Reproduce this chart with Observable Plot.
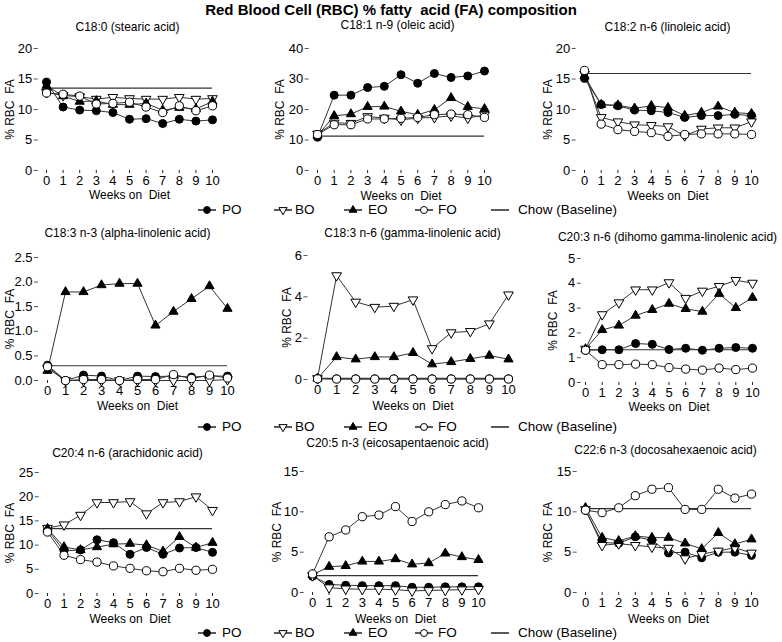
<!DOCTYPE html>
<html><head><meta charset="utf-8">
<script src="https://cdn.jsdelivr.net/npm/d3@7"></script>
<script src="https://cdn.jsdelivr.net/npm/@observablehq/plot@0.6"></script>
<style>
body{margin:0;background:#fff;}
#chart{position:relative;width:782px;height:642px;font-family:"Liberation Sans",Arial,sans-serif;color:#000;overflow:hidden;background:#fff}
.abs{position:absolute;white-space:pre;line-height:1}
svg text{white-space:pre}
</style></head><body><div id="chart"></div>
<script>
// ---------------- DATA ----------------
const weeks = [0,1,2,3,4,5,6,7,8,9,10];
const seriesNames = ["PO","BO","EO","FO"];
const legendLabels = ["PO","BO","EO","FO","Chow (Baseline)"];
const mainTitle = "Red Blood Cell (RBC) % fatty  acid (FA) composition";
const xLabel = "Weeks on  Diet";
const yLabel = "% RBC  FA";
const panelTitles = [
  "C18:0 (stearic acid)",
  "C18:1 n-9 (oleic acid)",
  "C18:2 n-6 (linoleic acid)",
  "C18:3 n-3 (alpha-linolenic acid)",
  "C18:3 n-6 (gamma-linolenic acid)",
  "C20:3 n-6 (dihomo gamma-linolenic acid)",
  "C20:4 n-6 (arachidonic acid)",
  "C20:5 n-3 (eicosapentaenoic acid)",
  "C22:6 n-3 (docosahexaenoic acid)"
];
const chowBaseline = [13.5, 11.3, 15.9, 0.3, 0.06, 1.32, 13.4, 2.1, 10.4];
const yMaxes = [20, 40, 20, 2.5, 6, 5, 25, 15, 15];
const yTickSteps = [5, 10, 5, 0.5, 2, 1, 5, 5, 5];

// rows: PO, BO, EO, FO  (weeks 0..10)
const stearic = [
  [14.5,10.4,9.9,9.8,9.5,8.4,8.5,7.7,8.4,8.1,8.3],
  [12.8,12.3,12.1,11.7,12.0,11.8,11.7,11.7,12.0,11.7,11.8],
  [13.9,12.2,11.3,11.4,10.8,10.8,11.0,9.9,10.3,10.1,11.3],
  [12.7,12.5,12.2,10.9,11.0,11.2,10.4,9.5,10.6,9.8,10.6]
];
const oleic = [
  [10.9,24.7,24.7,27.2,27.6,31.4,28.6,31.8,30.5,31.0,32.6],
  [12.0,15.6,15.5,17.7,17.2,16.6,17.2,17.4,17.9,17.2,18.2],
  [11.5,17.9,18.5,20.9,21.0,19.4,18.3,19.9,23.8,20.9,20.2],
  [11.8,15.0,15.0,16.9,16.9,17.1,17.4,18.3,18.5,18.3,17.4]
];
const linoleic = [
  [15.1,10.8,10.6,9.9,9.8,9.5,8.7,9.0,9.0,9.2,9.0],
  [15.8,8.7,8.0,7.5,7.4,7.2,5.7,6.8,7.0,7.0,8.0],
  [15.5,10.8,10.7,10.2,10.6,10.3,9.0,9.5,10.5,9.5,9.3],
  [16.4,7.6,6.7,6.4,6.2,5.6,5.9,6.0,6.0,6.0,5.9]
];
const alphaLinolenic = [
  [0.31,0.0,0.11,0.09,0.0,0.09,0.08,0.09,0.07,0.09,0.09],
  [0.25,0.0,0.0,0.0,0.0,0.0,0.0,0.0,0.0,0.0,0.02],
  [0.2,1.8,1.8,1.94,1.97,1.97,1.12,1.4,1.66,1.92,1.46],
  [0.28,0.0,0.02,0.02,0.0,0.02,0.02,0.12,0.04,0.11,0.05]
];
const gammaLinolenic = [
  [0.05,0.03,0.03,0.03,0.03,0.03,0.03,0.03,0.03,0.03,0.03],
  [0.05,5.03,3.75,3.5,3.55,3.86,1.5,2.27,2.33,2.7,4.1],
  [0.05,1.09,0.98,1.09,1.09,1.29,0.74,0.85,1.0,1.16,0.98],
  [0.03,0.02,0.02,0.02,0.02,0.02,0.02,0.02,0.02,0.02,0.02]
];
const dihomoGammaLinolenic = [
  [1.3,1.32,1.32,1.57,1.54,1.33,1.38,1.3,1.38,1.41,1.38],
  [1.35,2.74,3.22,3.74,3.74,4.03,3.4,3.69,3.88,4.12,4.01],
  [1.35,2.12,2.3,2.7,2.93,3.18,2.97,2.86,3.58,3.01,3.42],
  [1.3,0.72,0.72,0.74,0.72,0.6,0.54,0.5,0.58,0.52,0.58]
];
const arachidonic = [
  [13.2,8.8,9.0,11.1,10.5,8.1,9.5,8.1,9.4,9.5,8.5],
  [13.5,14.2,16.2,18.8,18.8,19.0,16.5,18.8,19.0,20.0,17.2],
  [13.4,9.6,9.0,9.6,10.2,10.3,10.0,8.7,11.7,9.5,10.5],
  [12.7,7.9,7.0,6.5,5.7,5.2,4.7,4.5,5.2,4.8,5.0]
];
const eicosapentaenoic = [
  [2.0,1.0,0.9,0.85,0.85,0.85,0.65,0.65,0.7,0.7,0.7],
  [2.1,0.6,0.45,0.4,0.4,0.35,0.2,0.25,0.3,0.35,0.4],
  [2.2,3.2,3.3,3.85,3.85,4.15,3.5,3.65,4.85,4.4,4.05],
  [2.3,6.9,7.75,9.4,9.6,10.65,8.8,10.0,10.9,11.35,10.5]
];
const docosahexaenoic = [
  [10.2,6.2,6.1,6.9,6.5,4.9,5.0,4.3,5.0,5.0,4.6],
  [10.3,5.85,6.05,5.85,5.65,5.5,4.2,4.75,5.15,5.55,4.9],
  [10.5,6.8,6.4,7.0,6.8,6.8,6.1,5.4,7.4,6.0,6.6],
  [10.2,9.9,10.5,12.0,12.8,13.0,10.3,10.3,12.8,11.7,12.2]
];
const panelData = [stearic, oleic, linoleic, alphaLinolenic, gammaLinolenic,
  dihomoGammaLinolenic, arachidonic, eicosapentaenoic, docosahexaenoic];

// ---------------- LAYOUT (page pixels) ----------------
const layout = [
  {x0:46,  x10:212, yTop:48,  y0:170, ylabX:10,  tx:127, ty:27,  xlabY:195, xlo:-0.5, xhi:10.5},
  {x0:317, x10:484, yTop:48,  y0:170, ylabX:280, tx:397, ty:25,  xlabY:196, xlo:-0.5, xhi:10.5},
  {x0:584, x10:751, yTop:48,  y0:170, ylabX:548, tx:667, ty:27,  xlabY:196, xlo:-0.5, xhi:10.5},
  {x0:47,  x10:227, yTop:257, y0:380, ylabX:10,  tx:127, ty:233, xlabY:406, xlo:-0.5, xhi:10.5},
  {x0:317, x10:508, yTop:255, y0:379, ylabX:287, tx:412, ty:233, xlabY:406, xlo:-0.5, xhi:10.5},
  {x0:585, x10:752, yTop:258, y0:382, ylabX:553, tx:667, ty:237, xlabY:407, xlo:-0.25, xhi:10.3},
  {x0:47,  x10:212, yTop:472, y0:593, ylabX:10,  tx:127, ty:453, xlabY:619, xlo:-0.5, xhi:10.5},
  {x0:312, x10:478, yTop:471, y0:592, ylabX:277, tx:397, ty:443, xlabY:619, xlo:-0.5, xhi:10.5},
  {x0:585, x10:751, yTop:471, y0:592, ylabX:548, tx:665, ty:450, xlabY:619, xlo:-0.5, xhi:10.5}
];

const symbolTriangleDown = {
  draw(context, size) {
    const s3 = Math.sqrt(3);
    const y = -Math.sqrt(size / (s3 * 3));
    context.moveTo(0, -y * 2);
    context.lineTo(-s3 * y, y);
    context.lineTo(s3 * y, y);
    context.closePath();
  }
};
const seriesStyle = {
  PO: {symbol: "circle", fill: "#000", r: 4},
  BO: {symbol: symbolTriangleDown, fill: "#fff", r: 3.6},
  EO: {symbol: "triangle", fill: "#000", r: 3.4},
  FO: {symbol: "circle", fill: "#fff", r: 4.1}
};

const chart = document.getElementById("chart");

function addText(txt, left, top, css) {
  const d = document.createElement("div");
  d.className = "abs";
  d.textContent = txt;
  d.style.left = left + "px";
  d.style.top = top + "px";
  Object.assign(d.style, css || {});
  chart.appendChild(d);
  return d;
}

// main title
addText(mainTitle, 0, 2, {width: "782px", textAlign: "center", fontWeight: "bold", fontSize: "15px"});

panelData.forEach((values, i) => {
  const g = layout[i];
  const unit = (g.x10 - g.x0) / 10;
  const rs = g.x0 + g.xlo * unit, re = g.x0 + g.xhi * unit;
  const L = g.ylabX - 9, T = g.ty - 10, R = re + 8, B = g.xlabY + 10;
  const rows = [];
  values.forEach((arr, s) => arr.forEach((v, k) => rows.push({series: seriesNames[s], week: weeks[k], value: v})));
  const ymax = yMaxes[i], step = yTickSteps[i];
  const yticks = d3.range(0, ymax + step / 2, step);
  const frameCenter = (rs + re) / 2;
  const frameMiddleY = (g.yTop + g.y0) / 2;
  const marks = [
    Plot.axisY({ticks: yticks, tickSize: 4, tickPadding: 2, line: true, label: null, stroke: "#555",
      tickFormat: step < 1 ? d3.format(".1f") : d3.format("d")}),
    Plot.axisX({ticks: weeks, tickSize: 3, tickPadding: 2, line: true, label: null, stroke: "#222"}),
    Plot.ruleY([chowBaseline[i]], {x1: 0, x2: 10, stroke: "#333", strokeWidth: 1.2}),
    Plot.line(rows, {x: "week", y: "value", z: "series", stroke: "#333", strokeWidth: 1})
  ];
  seriesNames.forEach(s => {
    const st = seriesStyle[s];
    marks.push(Plot.dot(rows.filter(d => d.series === s), {x: "week", y: "value", symbol: st.symbol, r: st.r,
      fill: st.fill, stroke: "#000", strokeWidth: 1}));
  });
  marks.push(Plot.text([panelTitles[i]], {text: d => d, frameAnchor: "top", lineAnchor: "middle", textAnchor: "middle",
    dy: g.ty - g.yTop, dx: g.tx - frameCenter, fontSize: 12}));
  marks.push(Plot.text([xLabel], {text: d => d, frameAnchor: "bottom", lineAnchor: "middle", textAnchor: "middle",
    dy: g.xlabY - g.y0, dx: (g.x0 + 5 * unit) - frameCenter, fontSize: 12}));
  marks.push(Plot.text([yLabel], {text: d => d, frameAnchor: "left", lineAnchor: "middle", textAnchor: "middle",
    rotate: -90, dx: g.ylabX - rs, dy: 0, fontSize: 12}));
  const svg = Plot.plot({
    width: R - L, height: B - T,
    marginLeft: rs - L, marginRight: R - re, marginTop: g.yTop - T, marginBottom: B - g.y0,
    x: {domain: [g.xlo, g.xhi]},
    y: {domain: [0, ymax]},
    style: {fontFamily: "'Liberation Sans', Arial, sans-serif", fontSize: "13px", background: "transparent", overflow: "visible", color: "#000"},
    marks
  });
  svg.style.position = "absolute";
  svg.style.left = L + "px";
  svg.style.top = T + "px";
  chart.appendChild(svg);
});

// legends
const legendRowsY = [210, 427, 633];
const glyphX = [207, 283, 353, 424, 500];
const labelX = [222, 295, 368, 438, 518];
const NS = "http://www.w3.org/2000/svg";
legendRowsY.forEach(y => {
  legendLabels.forEach((lab, j) => {
    const svg = document.createElementNS(NS, "svg");
    svg.setAttribute("width", 24); svg.setAttribute("height", 14);
    svg.style.position = "absolute";
    svg.style.left = (glyphX[j] - 12) + "px";
    svg.style.top = (y - 7) + "px";
    const line = document.createElementNS(NS, "line");
    line.setAttribute("x1", 3); line.setAttribute("x2", 21); line.setAttribute("y1", 7); line.setAttribute("y2", 7);
    line.setAttribute("stroke", "#000"); line.setAttribute("stroke-width", 1.3);
    svg.appendChild(line);
    if (j < 4) {
      const st = seriesStyle[seriesNames[j]];
      const p = document.createElementNS(NS, "path");
      const type = st.symbol === "circle" ? d3.symbolCircle : st.symbol === "triangle" ? d3.symbolTriangle : symbolTriangleDown;
      p.setAttribute("d", d3.symbol(type, Math.PI * (st.r * 0.85) ** 2)());
      p.setAttribute("transform", "translate(12,7)");
      p.setAttribute("fill", st.fill); p.setAttribute("stroke", "#000"); p.setAttribute("stroke-width", 1);
      svg.appendChild(p);
    }
    chart.appendChild(svg);
    addText(lab, labelX[j], y - 7, {fontSize: "13.5px"});
  });
});
</script></body></html>
